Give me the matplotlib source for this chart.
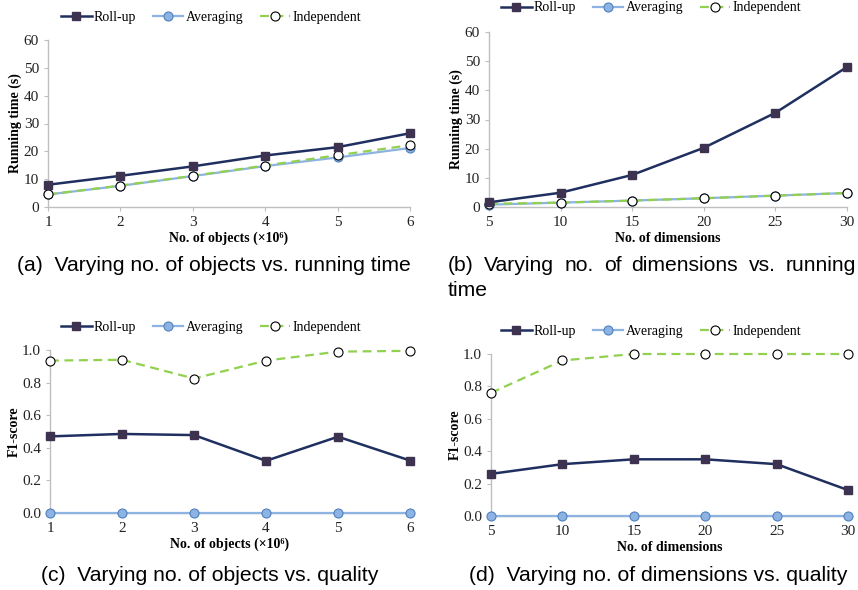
import matplotlib
matplotlib.use("Agg")
import matplotlib.pyplot as plt
from matplotlib.lines import Line2D

# data
objects = [1, 2, 3, 4, 5, 6]
dims = [5, 10, 15, 20, 25, 30]

time_obj_rollup = [8.0, 11.2, 14.6, 18.5, 21.5, 26.5]
time_obj_avg = [4.5, 7.6, 11.1, 14.7, 17.8, 21.2]
time_obj_ind = [4.5, 7.7, 11.2, 14.9, 18.6, 22.2]

time_dim_rollup = [1.6, 4.9, 11.0, 20.3, 32.3, 48.0]
time_dim_avg = [0.8, 1.5, 2.2, 3.0, 3.9, 4.8]
time_dim_ind = [1.1, 1.5, 2.2, 3.0, 3.9, 4.8]

f1_obj_rollup = [0.47, 0.485, 0.478, 0.32, 0.468, 0.322]
f1_obj_avg = [0, 0, 0, 0, 0, 0]
f1_obj_ind = [0.935, 0.94, 0.825, 0.935, 0.99, 0.995]

f1_dim_rollup = [0.26, 0.32, 0.35, 0.35, 0.32, 0.16]
f1_dim_avg = [0, 0, 0, 0, 0, 0]
f1_dim_ind = [0.76, 0.96, 1.0, 1.0, 1.0, 1.0]

labels = ["Roll-up", "Averaging", "Independent"]

serif = ["Liberation Serif", "DejaVu Serif"]
sans = ["Liberation Sans", "DejaVu Sans"]

W, H = 858, 590
fig = plt.figure(figsize=(W / 100, H / 100), dpi=100)

ROLL = dict(color="#1f2f5f", lw=1.8, marker="s", ms=5.5, mfc="#3d3350", mec="#3d3350")
AVG = dict(color="#8db3e2", lw=1.6, marker="o", ms=6.5, mfc="#8db3e2", mec="#4f81bd", mew=0.8)
IND = dict(color="#92d050", lw=1.6, ls=(0, (4, 2.5)), marker="o", ms=6.5,
           mfc="white", mec="black", mew=0.8)


def box(x0, x1, ytop, ybot):
    return [x0 / W, (H - ybot) / H, (x1 - x0) / W, (ybot - ytop) / H]


def draw(rect, x, ys, ylim, yticks, yfmt, xlabel, ylabel, leg_x, leg_y):
    ax = fig.add_axes(rect)
    r, a, i = ys
    ax.plot(x, a, clip_on=False, zorder=3, **AVG)
    ax.plot(x, i, clip_on=False, zorder=4, **IND)
    ax.plot(x, r, clip_on=False, zorder=5, **ROLL)
    ax.set_xlim(x[0], x[-1])
    ax.set_ylim(*ylim)
    ax.set_xticks(x)
    ax.set_yticks(yticks)
    ax.set_yticklabels([yfmt.format(v) for v in yticks])
    for s in ["top", "right"]:
        ax.spines[s].set_visible(False)
    for s in ["left", "bottom"]:
        ax.spines[s].set_color("#bfbfbf")
        ax.spines[s].set_linewidth(1.0)
    ax.tick_params(colors="#bfbfbf", labelcolor="#222222", length=3, width=0.8)
    for lab in ax.get_xticklabels() + ax.get_yticklabels():
        lab.set_family(serif)
        lab.set_fontsize(11)
    ax.set_xlabel(xlabel, family=serif, fontsize=10, fontweight="bold", labelpad=2)
    ax.set_ylabel(ylabel, family=serif, fontsize=10, fontweight="bold", labelpad=1)

    handles = [Line2D([], [], **ROLL), Line2D([], [], **AVG), Line2D([], [], **IND)]
    fig.legend(handles, labels, loc="center", bbox_to_anchor=(leg_x / W, (H - leg_y) / H),
               ncol=3, frameon=False, handlelength=2.2, columnspacing=1.2,
               handletextpad=0.15, prop={"family": serif, "size": 10})
    return ax


draw(box(48, 410, 40, 207), objects, (time_obj_rollup, time_obj_avg, time_obj_ind),
     (0, 60), range(0, 61, 10), "{:d}", "No. of objects (×10⁶)", "Running time (s)", 211, 17)
draw(box(489, 847, 32, 207), dims, (time_dim_rollup, time_dim_avg, time_dim_ind),
     (0, 60), range(0, 61, 10), "{:d}", "No. of dimensions", "Running time (s)", 651, 8)
draw(box(50, 410, 350, 513), objects, (f1_obj_rollup, f1_obj_avg, f1_obj_ind),
     (0, 1.0), [0, 0.2, 0.4, 0.6, 0.8, 1.0], "{:.1f}", "No. of objects (×10⁶)", "F1-score", 211, 327)
draw(box(491, 848, 354, 516), dims, (f1_dim_rollup, f1_dim_avg, f1_dim_ind),
     (0, 1.0), [0, 0.2, 0.4, 0.6, 0.8, 1.0], "{:.1f}", "No. of dimensions", "F1-score", 651, 331)

cap_size = 15.2
base_a = (H - 271) / H
base_c = (H - 581) / H
fig.text(214 / W, base_a, "(a)  Varying no. of objects vs. running time",
         ha="center", va="baseline", family=sans, fontsize=cap_size)
fig.text(210 / W, base_c, "(c)  Varying no. of objects vs. quality",
         ha="center", va="baseline", family=sans, fontsize=cap_size)
fig.text(658 / W, base_c, "(d)  Varying no. of dimensions vs. quality",
         ha="center", va="baseline", family=sans, fontsize=cap_size)

# (b) caption: first line justified between x0 and x1, then "time"
words = ["(b)", "Varying", "no.", "of", "dimensions", "vs.", "running"]
x0, x1 = 448, 856
fig.canvas.draw()
rend = fig.canvas.get_renderer()
objs = []
for w in words:
    t = fig.text(0, base_a, w, ha="left", va="baseline", family=sans, fontsize=cap_size)
    objs.append(t)
widths = [t.get_window_extent(rend).width for t in objs]
gap = ((x1 - x0) - sum(widths)) / (len(words) - 1)
pos = x0
for t, wd in zip(objs, widths):
    t.set_x(pos / W)
    pos += wd + gap
fig.text(x0 / W, (H - 296) / H, "time", ha="left", va="baseline", family=sans, fontsize=cap_size)

fig.savefig("out.png", dpi=100)
